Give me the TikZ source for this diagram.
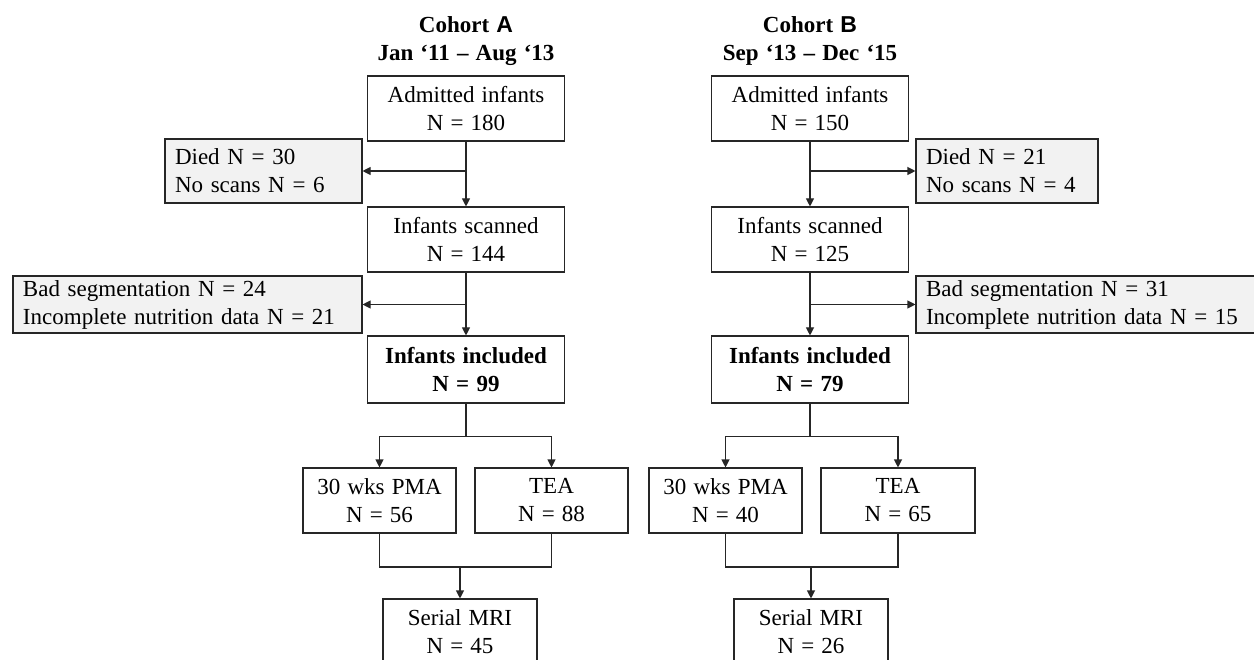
\documentclass[tikz,border=0pt]{standalone}
\usepackage{fontspec}
\setmainfont{Liberation Serif}[WordSpace=1.25]
\setsansfont{Liberation Sans}
\usetikzlibrary{arrows.meta,positioning,calc}
\definecolor{linegray}{HTML}{262626}
\definecolor{exclfill}{HTML}{F2F2F2}
\tikzset{
  stagebox/.style={
    rectangle, draw=linegray, line width=1.1pt, fill=white,
    minimum width=#1, minimum height=65pt, inner sep=0pt,
    font=\fontsize{23}{28}\selectfont, align=center
  },
  stagebox/.default=197pt,
  exclbox/.style={
    rectangle, draw=linegray, line width=1.1pt, fill=exclfill,
    inner xsep=10pt, inner ysep=0pt, text width=#1,
    font=\fontsize{23}{28}\selectfont, align=left
  },
  flowline/.style={line width=1.1pt, draw=linegray},
  flowarrow/.style={flowline, -{Triangle[length=8pt,width=8pt]}},
  cohorthead/.style={font=\fontsize{23}{28}\selectfont\bfseries, align=center},
}

\begin{document}
\begin{tikzpicture}[x=1pt, y=-1pt]
  \clip (0,0) rectangle (1254,660);
  % cohort A
  \node[cohorthead] (headA) at (466,41) {Cohort {\sffamily A}\\Jan ‘11 – Aug ‘13};
  \node[stagebox] (admA)  at (466,108.5) {Admitted infants\\N = 180};
  \node[stagebox] (scanA) at (466,239.5) {Infants scanned\\N = 144};
  \node[stagebox, minimum height=67pt, font=\fontsize{23}{28}\selectfont\bfseries] (inclA) at (466,369.5) {Infants included\\N = 99};
  \node[exclbox=177pt, minimum height=64pt] (diedA) at (263.5,171) {Died N = 30\\No scans N = 6};
  \node[exclbox=329pt, minimum height=57pt] (exclA) at (187.5,304.5) {Bad segmentation N = 24\\Incomplete nutrition data N = 21};
  \node[stagebox=153pt] (pmaA) at (379.5,500.5) {30 wks PMA\\N = 56};
  \node[stagebox=153pt] (teaA) at (551.5,500.5) {TEA\\N = 88};
  \node[stagebox=154pt] (mriA) at (460,631.5) {Serial MRI\\N = 45};
  \draw[flowarrow] (admA) -- (scanA);
  \draw[flowarrow] (admA.south |- diedA) -- (diedA);
  \draw[flowarrow] (scanA) -- (inclA);
  \draw[flowarrow] (scanA.south |- exclA) -- (exclA);
  \draw[flowline] (inclA) -- ($(inclA.south)+(0,33)$) coordinate (splitA);
  \draw[flowarrow] (splitA) -| (pmaA);
  \draw[flowarrow] (splitA) -| (teaA);
  \coordinate (mergeA) at (460,567);
  \draw[flowline] (pmaA) |- (mergeA) -| (teaA);
  \draw[flowarrow] (mergeA) -- (mriA);
  % cohort B
  \node[cohorthead] (headB) at (810,41) {Cohort {\sffamily B}\\Sep ‘13 – Dec ‘15};
  \node[stagebox] (admB)  at (810,108.5) {Admitted infants\\N = 150};
  \node[stagebox] (scanB) at (810,239.5) {Infants scanned\\N = 125};
  \node[stagebox, minimum height=67pt, font=\fontsize{23}{28}\selectfont\bfseries] (inclB) at (810,369.5) {Infants included\\N = 79};
  \node[exclbox=162pt, minimum height=64pt] (diedB) at (1007,171) {Died N = 21\\No scans N = 4};
  \node[exclbox=329pt, minimum height=57pt] (exclB) at (1090.5,304.5) {Bad segmentation N = 31\\Incomplete nutrition data N = 15};
  \node[stagebox=153pt] (pmaB) at (725.5,500.5) {30 wks PMA\\N = 40};
  \node[stagebox=154pt] (teaB) at (898,500.5) {TEA\\N = 65};
  \node[stagebox=154pt] (mriB) at (811,631.5) {Serial MRI\\N = 26};
  \draw[flowarrow] (admB) -- (scanB);
  \draw[flowarrow] (admB.south |- diedB) -- (diedB);
  \draw[flowarrow] (scanB) -- (inclB);
  \draw[flowarrow] (scanB.south |- exclB) -- (exclB);
  \draw[flowline] (inclB) -- ($(inclB.south)+(0,33)$) coordinate (splitB);
  \draw[flowarrow] (splitB) -| (pmaB);
  \draw[flowarrow] (splitB) -| (teaB);
  \coordinate (mergeB) at (811,567);
  \draw[flowline] (pmaB) |- (mergeB) -| (teaB);
  \draw[flowarrow] (mergeB) -- (mriB);
\end{tikzpicture}
\end{document}
